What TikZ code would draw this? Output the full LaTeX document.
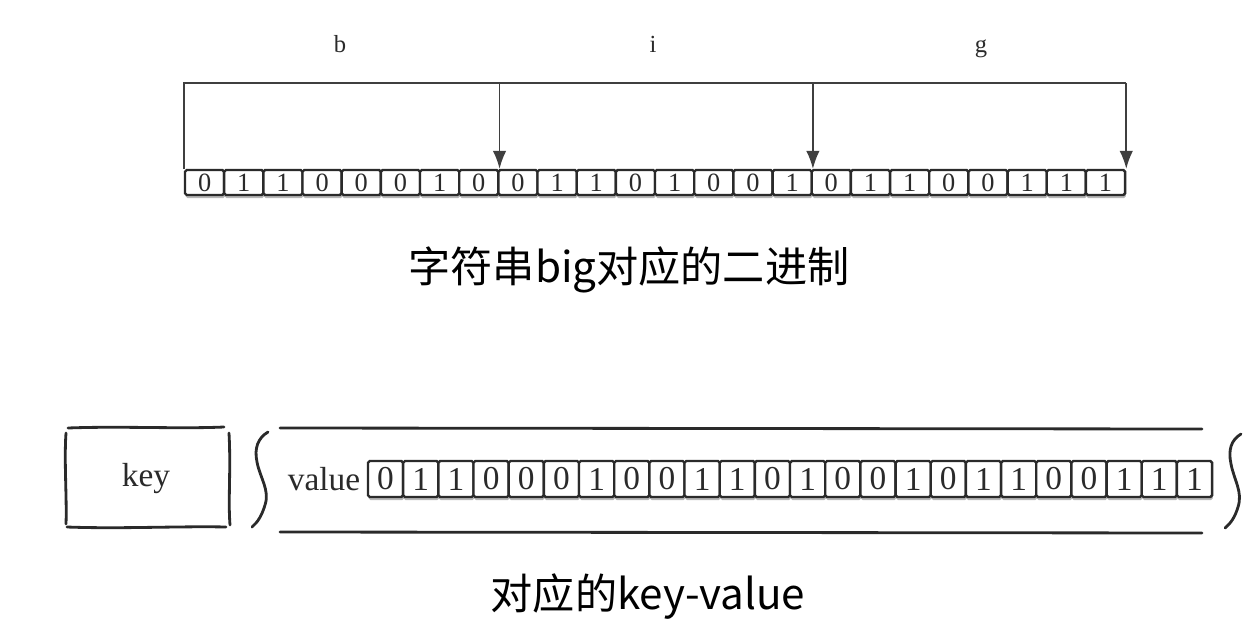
\documentclass[tikz,border=0pt]{standalone}
\usepackage{fontspec}
\setmainfont{Liberation Serif}
\newfontfamily\cjk{Noto Sans CJK SC}
\usetikzlibrary{arrows.meta,shadows}
\definecolor{ink}{HTML}{2A2A2A}
\begin{document}
\begin{tikzpicture}[x=0.02cm,y=-0.02cm,
  every node/.style={text=ink},
  bitcell/.style={draw=ink,line width=1.35pt,rounded corners=1pt,fill=white,
    inner sep=0pt,anchor=center,
    drop shadow={shadow xshift=0.4pt,shadow yshift=-1.8pt,opacity=0.4,fill=black!70}},
  topcell/.style={bitcell,minimum width=0.7833cm,minimum height=0.5cm,font=\fontsize{15}{17}\selectfont},
  lowcell/.style={bitcell,minimum width=0.7033cm,minimum height=0.72cm,font=\fontsize{19}{21}\selectfont},
  conn/.style={draw=ink!90,line width=0.9pt},
  tip/.style={-{Latex[length=0.36cm,width=0.27cm]}},
  letter/.style={font=\fontsize{14}{16}\selectfont,anchor=base},
  caption/.style={font=\cjk\fontsize{24}{27}\selectfont,text=black},
  sketch/.style={draw=ink,line width=1.6pt,line cap=round},
]
\useasboundingbox (0,0) rectangle (1260,635);

% bit string of "big", one cell per bit
\foreach \b [count=\i from 0] in {0,1,1,0,0,0,1,0,0,1,1,0,1,0,0,1,0,1,1,0,0,1,1,1}
  \node[topcell] (t\i) at ({185+39.17*(\i+0.5)},182.5) {\b};

% byte markers above the bits
\coordinate (ra) at (185,83);
\coordinate (rb) at (t7.north east |- ra);
\coordinate (rc) at (t15.north east |- ra);
\coordinate (rd) at (t23.north east |- ra);
\draw[conn] (t0.north west) -- (t0.north west |- ra) -- (rd);
\draw[conn,tip] (rb) -- (t7.north east);
\draw[conn,tip] (rc) -- (t15.north east);
\draw[conn,tip] (rd) -- (t23.north east);

\node[letter] (lb) at (340,53) {b};
\node[letter] (li) at (653,53) {i};
\node[letter] (lg) at (981,53) {g};

\node[caption] (cap1) at (629,270) {字符串big对应的二进制};

% key box, drawn by hand-style strokes
\node[font=\fontsize{19}{21}\selectfont] (key) at (146,479) {key};
\draw[sketch] (68,428) .. controls (120,426) and (180,429) .. (224,427);
\draw[sketch] (66,433) .. controls (64,460) and (67,500) .. (66,524);
\draw[sketch] (67,527) .. controls (120,529) and (180,526) .. (226,527);
\draw[sketch] (229,433) .. controls (231,470) and (228,500) .. (230,525);

% braces and rails around the value
\draw[sketch] (268,432) .. controls (258,438) and (254,448) .. (257,462)
  .. controls (260,478) and (270,490) .. (265,505)
  .. controls (262,515) and (258,522) .. (252,527);
\draw[sketch] (1241,434) .. controls (1231,440) and (1228,450) .. (1231,464)
  .. controls (1234,480) and (1243,492) .. (1238,507)
  .. controls (1235,517) and (1231,523) .. (1225,528);
\draw[sketch] (280,428) -- (1202,429);
\draw[sketch] (280,532) -- (1202,533);

\node[font=\fontsize{19}{21}\selectfont] (value) at (324,479) {value};
\foreach \b [count=\i from 0] in {0,1,1,0,0,0,1,0,0,1,1,0,1,0,0,1,0,1,1,0,0,1,1,1}
  \node[lowcell] (v\i) at ({368+35.17*(\i+0.5)},479) {\b};

\node[caption] (cap2) at (648,597) {对应的key-value};
\end{tikzpicture}
\end{document}
